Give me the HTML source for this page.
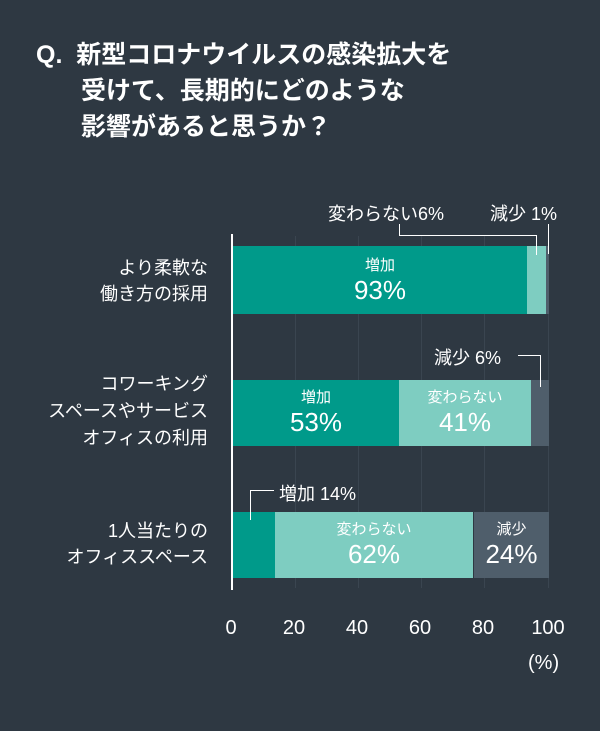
<!DOCTYPE html><html><head><meta charset="utf-8"><style>
body{margin:0;width:600px;height:731px;background:#2e3842;font-family:"Liberation Sans","Noto Sans CJK JP",sans-serif;color:#fff;position:relative;overflow:hidden}
.a{position:absolute;white-space:nowrap}
.t{font-size:25px;font-weight:bold;line-height:36px;left:36px;top:37px}
.lab{font-size:18px;line-height:26px;text-align:right;right:392px}
.b{position:absolute}
.c{position:absolute;text-align:center;line-height:1}
.s{font-size:15px}.p{font-size:26px}
.tk{font-size:20px;top:617px;width:60px;text-align:center}
.ln{position:absolute;background:#fff}
.g{position:absolute;top:236px;width:1px;height:352px;background:#3a4550}
</style></head><body>
<div class="a t">Q.&nbsp; 新型コロナウイルスの感染拡大を<br><span style="padding-left:45px">受けて、長期的にどのような</span><br><span style="padding-left:45px">影響があると思うか？</span></div>
<div class="g" style="left:295px"></div><div class="g" style="left:358px"></div><div class="g" style="left:421px"></div><div class="g" style="left:484px"></div><div class="g" style="left:548px"></div>
<div class="ln" style="left:231px;top:234px;width:2px;height:356px"></div>
<!-- bar1 -->
<div class="b" style="left:233px;top:246px;width:294px;height:68px;background:#009a8a"></div>
<div class="b" style="left:527px;top:246px;width:19px;height:68px;background:#7ecdc1"></div>
<div class="b" style="left:546px;top:246px;width:3px;height:68px;background:#4f5e6b"></div>
<div class="c" style="left:233px;width:294px;top:258px"><div class="s">増加</div><div class="p" style="margin-top:4px">93%</div></div>
<div class="a" style="left:328px;top:200px;font-size:18px">変わらない6%</div>
<div class="a" style="left:490px;top:200px;font-size:18px">減少 1%</div>
<div class="ln" style="left:399px;top:224px;width:1px;height:12px"></div>
<div class="ln" style="left:399px;top:235px;width:137px;height:1px"></div>
<div class="ln" style="left:536px;top:235px;width:1px;height:20px"></div>
<div class="ln" style="left:548px;top:224px;width:1px;height:30px"></div>
<div class="a lab" style="top:255px">より柔軟な<br>働き方の採用</div>
<!-- bar2 -->
<div class="b" style="left:233px;top:380px;width:166px;height:66px;background:#009a8a"></div>
<div class="b" style="left:399px;top:380px;width:132px;height:66px;background:#7ecdc1"></div>
<div class="b" style="left:531px;top:380px;width:18px;height:66px;background:#4f5e6b"></div>
<div class="c" style="left:233px;width:166px;top:390px"><div class="s">増加</div><div class="p" style="margin-top:4px">53%</div></div>
<div class="c" style="left:399px;width:132px;top:390px"><div class="s">変わらない</div><div class="p" style="margin-top:4px">41%</div></div>
<div class="a" style="left:434px;top:344px;font-size:18px">減少 6%</div>
<div class="ln" style="left:518px;top:355px;width:22px;height:1px"></div>
<div class="ln" style="left:540px;top:355px;width:1px;height:32px"></div>
<div class="a lab" style="top:371px;line-height:27px">コワーキング<br>スペースやサービス<br>オフィスの利用</div>
<!-- bar3 -->
<div class="b" style="left:233px;top:512px;width:42px;height:66px;background:#009a8a"></div>
<div class="b" style="left:275px;top:512px;width:198px;height:66px;background:#7ecdc1"></div>
<div class="b" style="left:474px;top:512px;width:75px;height:66px;background:#4f5e6b"></div>
<div class="c" style="left:275px;width:198px;top:522px"><div class="s">変わらない</div><div class="p" style="margin-top:4px">62%</div></div>
<div class="c" style="left:474px;width:75px;top:522px"><div class="s">減少</div><div class="p" style="margin-top:4px">24%</div></div>
<div class="a" style="left:279px;top:480px;font-size:18px">増加 14%</div>
<div class="ln" style="left:250px;top:490px;width:24px;height:1px"></div>
<div class="ln" style="left:250px;top:490px;width:1px;height:30px"></div>
<div class="a lab" style="top:518px">1人当たりの<br>オフィススペース</div>
<!-- ticks -->
<div class="a tk" style="left:201px">0</div>
<div class="a tk" style="left:264px">20</div>
<div class="a tk" style="left:327px">40</div>
<div class="a tk" style="left:390px">60</div>
<div class="a tk" style="left:453px">80</div>
<div class="a tk" style="left:518px">100</div>
<div class="a" style="left:528px;top:652px;font-size:20px">(%)</div>
</body></html>
